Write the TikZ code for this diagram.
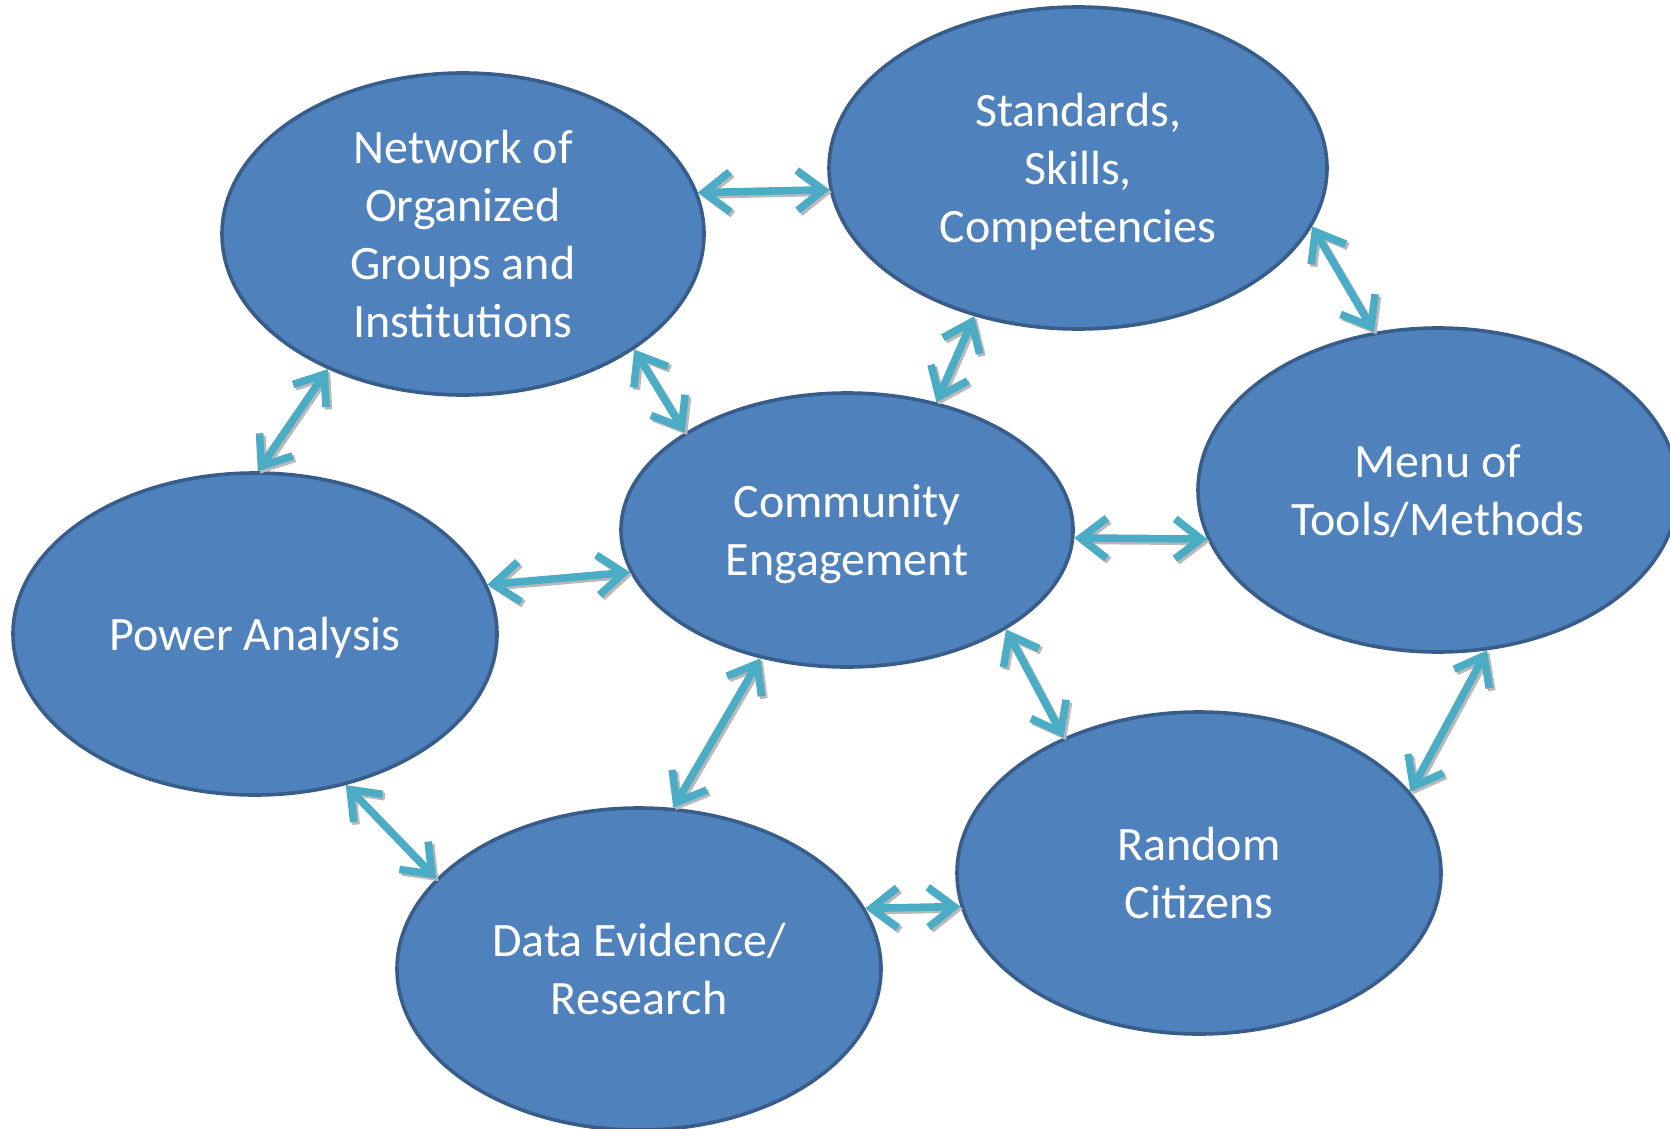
\documentclass[tikz,border=0pt]{standalone}
\usepackage{fontspec}
\setmainfont{Carlito}
\usetikzlibrary{shapes.geometric}
\usetikzlibrary{arrows.meta}
\definecolor{bubblefill}{HTML}{4F81BD}
\definecolor{bubbleline}{HTML}{385D8A}
\definecolor{linkteal}{HTML}{4BACC6}

\begin{document}
\begin{tikzpicture}[x=0.5pt,y=-0.5pt,>={Straight Barb[length=13pt,width=20pt]}]
\tikzstyle{bubble} = [ellipse, draw=bubbleline, line width=1.8pt, fill=bubblefill,
text=white, align=center, inner sep=0pt, text depth=0pt, font=\fontsize{24}{29}\selectfont]
\tikzstyle{link} = [draw=linkteal, line width=3.8pt, <->,
preaction={draw=gray!55, line width=3.8pt, <->, transform canvas={shift={(1.2pt,-1.2pt)}}}]
\useasboundingbox (0,0) rectangle (1670,1129);
% bubbles
\node [bubble, minimum width=241pt, minimum height=161pt] (net) at (463,234) {Network of\\Organized\\Groups and\\Institutions};
\node [bubble, minimum width=249pt, minimum height=161pt] (std) at (1078,168) {Standards,\\Skills,\\Competencies};
\node [bubble, minimum width=240pt, minimum height=162pt] (menu) at (1438,490) {Menu of\\Tools/Methods};
\node [bubble, minimum width=226pt, minimum height=137pt] (comm) at (847,530) {Community\\Engagement};
\node [bubble, minimum width=242pt, minimum height=161pt] (power) at (255,634) {Power Analysis};
\node [bubble, minimum width=242pt, minimum height=161pt] (rand) at (1199,873) {Random\\Citizens};
\node [bubble, minimum width=242pt, minimum height=161pt] (data) at (639,969) {Data Evidence/\\Research};
% links
\draw[link] (net.10) -- (std.185);
\draw[link] (std.-14) -- (menu.112);
\draw[link] (net.-34) -- (comm.149);
\draw[link] (std.-125) -- (comm.55);
\draw[link] (net.-135) -- (power.89);
\draw[link] (power.12) -- (comm.191);
\draw[link] (comm.-2) -- (menu.192);
\draw[link] (comm.-32) -- (rand.135);
\draw[link] (comm.-124) -- (data.78);
\draw[link] (power.-59) -- (data.156);
\draw[link] (data.15) -- (rand.188);
\draw[link] (menu.-73) -- (rand.21);
\end{tikzpicture}
\end{document}
